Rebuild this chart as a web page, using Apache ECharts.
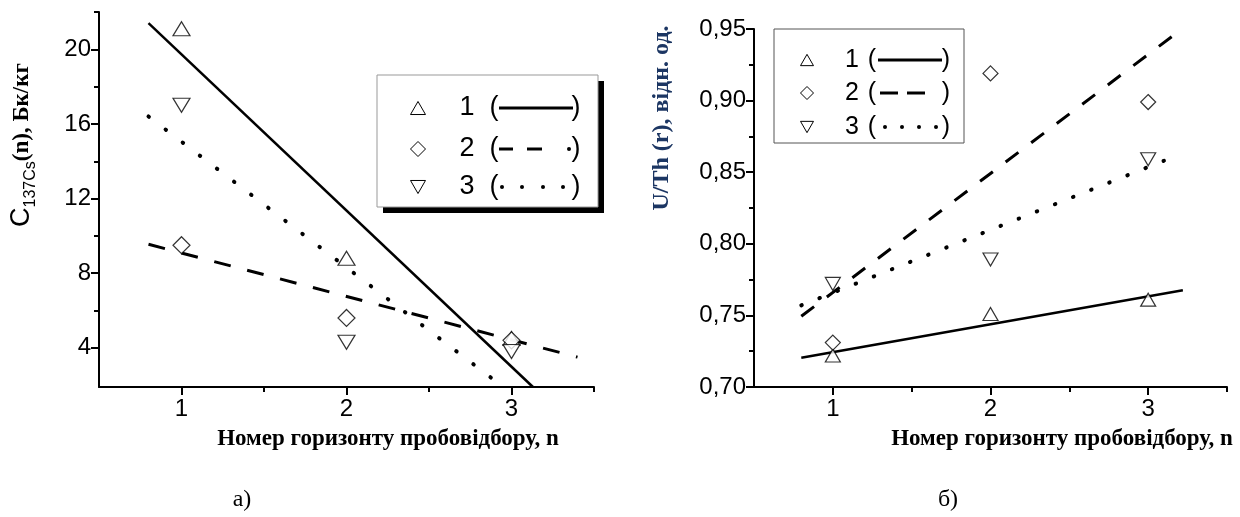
<!DOCTYPE html>
<html>
<head>
<meta charset="utf-8">
<script src="https://cdn.jsdelivr.net/npm/echarts@6/dist/echarts.min.js"></script>
<style>
html,body{margin:0;padding:0;background:#fff;}
#chart{width:1240px;height:517px;}
</style>
</head>
<body>
<div id="chart"></div>
<script>
// ---- data ----
const horizons = [1, 2, 3];
const xTickLabels = [1, 2, 3];
const csTicks = [4, 8, 12, 16, 20];
const uTicks = [0.70, 0.75, 0.80, 0.85, 0.90, 0.95];

const cs1 = [21.1, 8.8, 4.5];
const cs2 = [9.5, 5.6, 4.4];
const cs3 = [17.0, 4.3, 3.8];
const csFit1 = [[0.8, 21.4], [3.13, 1.9]];
const csFit2 = [[0.8, 9.55], [3.4, 3.5]];
const csFit3 = [[0.8, 16.4], [2.95, 1.9]];

const u1 = [0.722, 0.751, 0.761];
const u2 = [0.731, 0.919, 0.899];
const u3 = [0.772, 0.789, 0.859];
const uFit1 = [[0.8, 0.7205], [3.22, 0.7675]];
const uFit2 = [[0.8, 0.7494], [3.19, 0.948]];
const uFit3 = [[0.8, 0.757], [3.1, 0.858]];

const legendLabels = ['1', '2', '3'];

// ---- helpers ----
const pairs = (xs, ys) => xs.map((x, i) => [x, ys[i]]);
const SANS = 'Liberation Sans, Arial, sans-serif';
const SERIF = 'Liberation Serif, Times New Roman, serif';
const NAVY = '#1c3663';

function mainX(grid) {
  return {
    type: 'value', gridIndex: grid, min: 0.5, max: 3.5,
    axisLine: {show: true, lineStyle: {color: '#000', width: 2}},
    axisTick: {show: true, length: 8, lineStyle: {color: '#000', width: 2}, customValues: xTickLabels},
    axisLabel: {show: true, customValues: xTickLabels, color: '#000', fontFamily: SANS, fontSize: 24, margin: 10},
    splitLine: {show: false}
  };
}
function minorX(grid) {
  return {
    type: 'value', gridIndex: grid, min: 0.5, max: 3.5, position: 'bottom',
    axisLine: {show: false},
    axisTick: {show: true, length: 5, lineStyle: {color: '#000', width: 2}, customValues: [1.5, 2.5, 3.5]},
    axisLabel: {show: false}, splitLine: {show: false}
  };
}
function mainY(grid, min, max, ticks, fmt) {
  return {
    type: 'value', gridIndex: grid, min: min, max: max,
    axisLine: {show: true, lineStyle: {color: '#000', width: 2}},
    axisTick: {show: true, length: 8, lineStyle: {color: '#000', width: 2}, customValues: ticks},
    axisLabel: {show: true, customValues: ticks, color: '#000', fontFamily: SANS, fontSize: 24, margin: 8, formatter: fmt},
    splitLine: {show: false}
  };
}
function minorY(grid, min, max, ticks) {
  return {
    type: 'value', gridIndex: grid, min: min, max: max, position: 'left',
    axisLine: {show: false},
    axisTick: {show: true, length: 5, lineStyle: {color: '#000', width: 2}, customValues: ticks},
    axisLabel: {show: false}, splitLine: {show: false}
  };
}
function scatter(name, xi, yi, data, symbol, rot, size) {
  return {
    name: name, type: 'scatter', xAxisIndex: xi, yAxisIndex: yi, data: data,
    symbol: symbol, symbolRotate: rot, symbolSize: size, z: 5,
    itemStyle: {color: '#fff', borderColor: '#000', borderWidth: 1.2}
  };
}
function fit(name, xi, yi, data, type, width, cap) {
  return {
    name: name, type: 'line', xAxisIndex: xi, yAxisIndex: yi, data: data,
    symbol: 'none', z: 4, silent: true,
    lineStyle: {color: '#000', width: width, type: type, cap: cap || 'butt'}
  };
}

// legend graphic helpers
function triPts(cx, cy, s, down) {
  const h = s * 0.87, d = down ? -1 : 1;
  return [[cx, cy - d * h / 2], [cx + s / 2, cy + d * h / 2], [cx - s / 2, cy + d * h / 2]];
}
function diaPts(cx, cy, s) {
  return [[cx, cy - s / 2], [cx + s / 2, cy], [cx, cy + s / 2], [cx - s / 2, cy]];
}
function poly(points) {
  return {type: 'polygon', shape: {points: points}, style: {fill: '#fff', stroke: '#000', lineWidth: 1}, z: 20};
}
function seg(x1, y, x2, w) {
  return {type: 'line', shape: {x1: x1, y1: y, x2: x2, y2: y}, style: {stroke: '#000', lineWidth: w}, z: 20};
}
function dot(x, y, r) {
  return {type: 'circle', shape: {cx: x, cy: y, r: r}, style: {fill: '#000'}, z: 20};
}
function txt(x, y, t, align, size) {
  return {type: 'text', x: x, y: y, z: 20,
    style: {text: t, fill: '#000', font: size + 'px ' + SANS, align: align, verticalAlign: 'middle'}};
}

const graphics = [];
// ---- left legend ----
graphics.push({type: 'rect', shape: {x: 383, y: 81, width: 221, height: 132}, style: {fill: '#000'}, z: 18});
graphics.push({type: 'rect', shape: {x: 377, y: 75, width: 221, height: 132}, style: {fill: '#fff', stroke: '#999', lineWidth: 1}, z: 19});
const lRows = [108, 149, 187];
graphics.push(poly(triPts(418, lRows[0], 15, false)));
graphics.push(poly(diaPts(418, lRows[1], 15)));
graphics.push(poly(triPts(418, lRows[2], 15, true)));
lRows.forEach((y, i) => {
  graphics.push(txt(467, y, legendLabels[i], 'center', 27));
  graphics.push(txt(494, y, '(', 'center', 27));
  graphics.push(txt(576, y, ')', 'center', 27));
});
graphics.push(seg(499, lRows[0], 573, 3));
graphics.push(seg(499, lRows[1], 513, 3));
graphics.push(seg(527, lRows[1], 542, 3));
graphics.push(dot(569, lRows[1], 2));
[502, 522, 543, 563].forEach(x => graphics.push(dot(x, lRows[2], 2)));

// ---- right legend ----
graphics.push({type: 'rect', shape: {x: 774, y: 29, width: 190, height: 114}, style: {fill: '#fff', stroke: '#555', lineWidth: 1}, z: 19});
const rRows = [60, 93, 127];
graphics.push(poly(triPts(807, rRows[0], 13, false)));
graphics.push(poly(diaPts(807, rRows[1], 13)));
graphics.push(poly(triPts(807, rRows[2], 13, true)));
rRows.forEach((y, i) => {
  graphics.push(txt(852, y, legendLabels[i], 'center', 25));
  graphics.push(txt(872, y, '(', 'center', 25));
  graphics.push(txt(946, y, ')', 'center', 25));
});
graphics.push(seg(878, rRows[0], 942, 3));
graphics.push(seg(880, rRows[1], 898, 3));
graphics.push(seg(907, rRows[1], 925, 3));
[885, 902, 919, 936].forEach(x => graphics.push(dot(x, rRows[2], 2)));

// ---- axis titles and captions ----
graphics.push({type: 'text', x: 388, y: 439, style: {text: 'Номер горизонту пробовідбору, n', fill: '#000',
  font: 'bold 23px ' + SERIF, align: 'center', verticalAlign: 'middle'}});
graphics.push({type: 'text', x: 1062, y: 439, style: {text: 'Номер горизонту пробовідбору, n', fill: '#000',
  font: 'bold 23px ' + SERIF, align: 'center', verticalAlign: 'middle'}});
graphics.push({type: 'text', x: 242, y: 500, style: {text: 'а)', fill: '#000',
  font: '24px ' + SERIF, align: 'center', verticalAlign: 'middle'}});
graphics.push({type: 'text', x: 948, y: 500, style: {text: 'б)', fill: '#000',
  font: '24px ' + SERIF, align: 'center', verticalAlign: 'middle'}});
graphics.push({type: 'text', x: 22, y: 145, rotation: Math.PI / 2,
  style: {text: '{c|C}{s|137Cs}{b|(n), Бк/кг}', align: 'center', verticalAlign: 'middle',
    rich: {
      c: {fontFamily: SANS, fontSize: 27, color: '#000', lineHeight: 32},
      s: {fontFamily: SANS, fontSize: 16, color: '#444', padding: [18, 0, 0, 0], lineHeight: 32},
      b: {fontFamily: SERIF, fontWeight: 'bold', fontSize: 23, color: NAVY, lineHeight: 32}
    }}});
graphics.push({type: 'text', x: 662, y: 118, rotation: Math.PI / 2,
  style: {text: 'U/Th (r), відн. од.', fill: NAVY, font: 'bold 24px ' + SERIF, align: 'center', verticalAlign: 'middle'}});

const uFmt = v => v.toFixed(2).replace('.', ',');

const option = {
  backgroundColor: '#fff',
  animation: false,
  grid: [
    {left: 99, top: 12, width: 495, height: 375},
    {left: 754, top: 29, width: 473, height: 358}
  ],
  xAxis: [mainX(0), minorX(0), mainX(1), minorX(1)],
  yAxis: [
    mainY(0, 1.9, 22, csTicks, v => String(v)),
    minorY(0, 1.9, 22, [6, 10, 14, 18, 22]),
    mainY(1, 0.70, 0.95, uTicks, uFmt),
    minorY(1, 0.70, 0.95, [0.725, 0.775, 0.825, 0.875, 0.925])
  ],
  series: [
    fit('fit1', 0, 0, csFit1, 'solid', 2.5),
    fit('fit2', 0, 0, csFit2, [17, 17], 3),
    fit('fit3', 0, 0, csFit3, [0.5, 21], 4, 'round'),
    scatter('1', 0, 0, pairs(horizons, cs1), 'triangle', 0, [17, 14]),
    scatter('2', 0, 0, pairs(horizons, cs2), 'diamond', 0, [17, 17]),
    scatter('3', 0, 0, pairs(horizons, cs3), 'triangle', 180, [17, 14]),
    fit('fit1b', 2, 2, uFit1, 'solid', 2.5),
    fit('fit2b', 2, 2, uFit2, [16, 16], 3),
    fit('fit3b', 2, 2, uFit3, [0.5, 19], 4, 'round'),
    scatter('1b', 2, 2, pairs(horizons, u1), 'triangle', 0, [15, 13]),
    scatter('2b', 2, 2, pairs(horizons, u2), 'diamond', 0, [15, 15]),
    scatter('3b', 2, 2, pairs(horizons, u3), 'triangle', 180, [15, 13])
  ],
  graphic: graphics
};
const chart = echarts.init(document.getElementById('chart'), null, {renderer: 'canvas'});
chart.setOption(option);
</script>
</body>
</html>
